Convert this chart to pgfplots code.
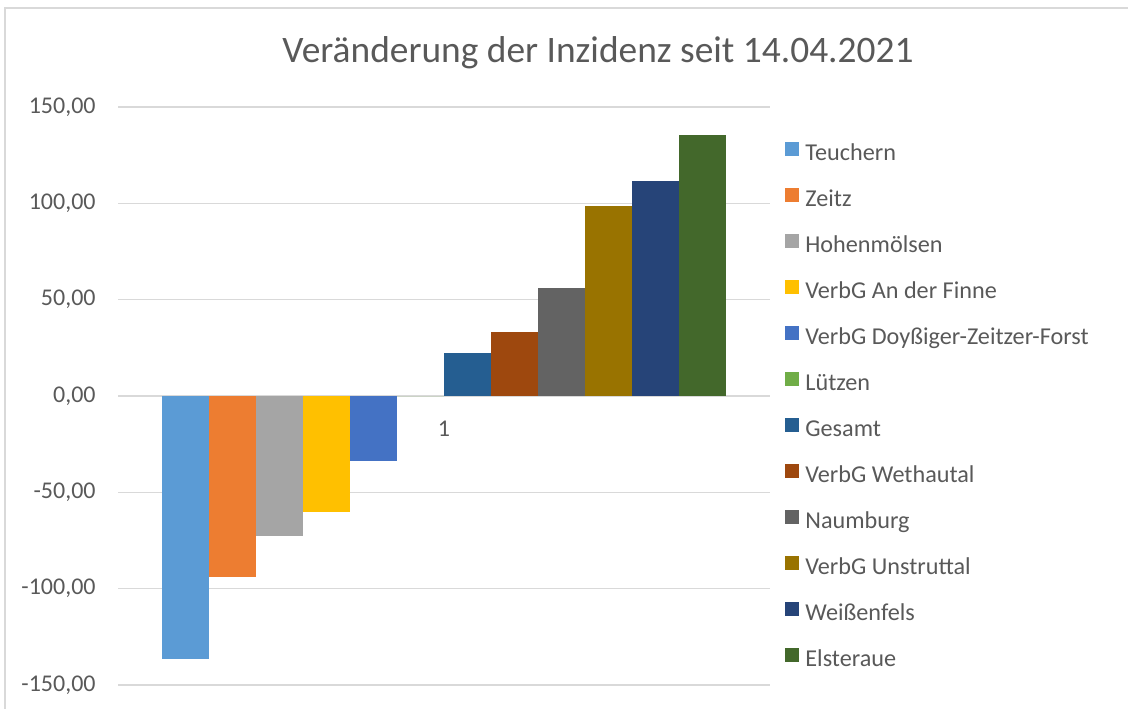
\documentclass[border=0pt]{standalone}
\usepackage{fontspec}
\setmainfont{Carlito}
\usepackage{pgfplots}
\pgfplotsset{compat=1.18}
\definecolor{txtgray}{HTML}{595959}
\definecolor{gridgray}{HTML}{D9D9D9}
\definecolor{c1}{HTML}{5B9BD5}
\definecolor{c2}{HTML}{ED7D31}
\definecolor{c3}{HTML}{A5A5A5}
\definecolor{c4}{HTML}{FFC000}
\definecolor{c5}{HTML}{4472C4}
\definecolor{c6}{HTML}{70AD47}
\definecolor{c7}{HTML}{255E91}
\definecolor{c8}{HTML}{9E480E}
\definecolor{c9}{HTML}{636363}
\definecolor{c10}{HTML}{997300}
\definecolor{c11}{HTML}{264478}
\definecolor{c12}{HTML}{43682B}
\begin{document}
\begin{tikzpicture}
\useasboundingbox (0,0) rectangle (564pt,354pt);
\draw[gridgray, line width=0.75pt] (2.5pt,-5pt) -- (2.5pt,350pt) -- (570pt,350pt);
\node[anchor=base, text=txtgray, font=\fontsize{18.7}{22}\selectfont, inner sep=0pt] at (299pt,322.5pt) {Veränderung der Inzidenz seit 14.04.2021};
\begin{axis}[
  at={(59pt,11.5pt)}, anchor=south west,
  scale only axis, width=326pt, height=289pt,
  xmin=0.5, xmax=1.5, ymin=-150, ymax=150,
  axis x line*=middle, axis y line*=left,
  axis line style={draw=none},
  major tick length=0pt,
  ybar=0pt, bar width=23.47pt,
  ytick={-150,-100,-50,0,50,100,150},
  yticklabels={{-150,00},{-100,00},{-50,00},{0,00},{50,00},{100,00},{150,00}},
  xtick={1}, xticklabels={1},
  ymajorgrids, grid style={gridgray, line width=0.75pt},
  tick label style={font=\fontsize{12}{14}\selectfont, text=txtgray},
  yticklabel style={anchor=east, inner sep=0pt, xshift=-11pt},
  xticklabel style={anchor=base, inner sep=0pt, yshift=-20pt},
  legend cell align=left,
  legend image code/.code={\fill[#1] (0pt,-0.3pt) rectangle (7pt,6.7pt);},
  legend style={at={(1.023,0.940)}, anchor=north west, draw=none, fill=none,
    inner sep=0pt, row sep=11.8pt, column sep=3pt,
    font=\fontsize{12.1}{14}\selectfont, text=txtgray,
    nodes={inner sep=0pt, text height=7pt, text depth=2pt, anchor=west}},
]
\addplot[fill=c1, draw=none] coordinates {(1,-136.5)};
\addlegendentry{Teuchern}
\addplot[fill=c2, draw=none] coordinates {(1,-94.0)};
\addlegendentry{Zeitz}
\addplot[fill=c3, draw=none] coordinates {(1,-72.7)};
\addlegendentry{Hohenmölsen}
\addplot[fill=c4, draw=none] coordinates {(1,-60.3)};
\addlegendentry{VerbG An der Finne}
\addplot[fill=c5, draw=none] coordinates {(1,-33.8)};
\addlegendentry{VerbG Doyßiger-Zeitzer-Forst}
\addplot[fill=c6, draw=none] coordinates {(1,0)};
\addlegendentry{Lützen}
\addplot[fill=c7, draw=none] coordinates {(1,22.3)};
\addlegendentry{Gesamt}
\addplot[fill=c8, draw=none] coordinates {(1,33.2)};
\addlegendentry{VerbG Wethautal}
\addplot[fill=c9, draw=none] coordinates {(1,56.0)};
\addlegendentry{Naumburg}
\addplot[fill=c10, draw=none] coordinates {(1,98.6)};
\addlegendentry{VerbG Unstruttal}
\addplot[fill=c11, draw=none] coordinates {(1,111.6)};
\addlegendentry{Weißenfels}
\addplot[fill=c12, draw=none] coordinates {(1,135.5)};
\addlegendentry{Elsteraue}
\end{axis}
\end{tikzpicture}
\end{document}
